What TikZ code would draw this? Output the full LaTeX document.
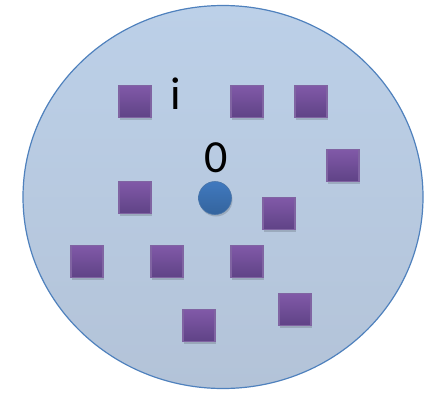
\documentclass[tikz,border=0pt]{standalone}
\usepackage{fontspec}
\setmainfont{Carlito}
\usetikzlibrary{shadows,shapes.geometric}
\definecolor{discfill}{HTML}{B9CDE5}
\definecolor{disctop}{HTML}{BCD0E8}
\definecolor{discbot}{HTML}{B3C3D8}
\definecolor{discline}{HTML}{4F81BD}
\definecolor{sqtop}{HTML}{8159A8}
\definecolor{sqbot}{HTML}{5F4386}
\definecolor{sqline}{HTML}{8064A2}
\definecolor{dottop}{HTML}{4079BE}
\definecolor{dotbot}{HTML}{34649E}
\tikzset{
  sq/.style={rectangle, minimum size=32pt, inner sep=0pt, top color=sqtop, bottom color=sqbot, draw=sqline, line width=1.3pt,
    drop shadow={shadow xshift=1pt, shadow yshift=-2pt, opacity=0.15, fill=black}},
  lbl/.style={font=\fontsize{46}{46}\selectfont, inner sep=0pt, text=black}
}
\begin{document}
\begin{tikzpicture}[x=1pt,y=-1pt]
\useasboundingbox (0,0) rectangle (433,394);
\node[ellipse, minimum width=400pt, minimum height=383pt, inner sep=0pt, top color=disctop, bottom color=discbot, draw=discline, line width=1.2pt] (disc) at (223,197) {};
\node[sq] (s1) at (135,101.5) {};
\node[sq] (s2) at (247,101.5) {};
\node[sq] (s3) at (311,101.5) {};
\node[sq] (s4) at (343,165.5) {};
\node[sq] (s5) at (135,197.5) {};
\node[sq] (s6) at (279,213.5) {};
\node[sq] (s7) at (87,261.5) {};
\node[sq] (s8) at (167,261.5) {};
\node[sq] (s9) at (247,261.5) {};
\node[sq] (s10) at (295,309.5) {};
\node[sq] (s11) at (199,325.5) {};
\node[circle, minimum size=33pt, inner sep=0pt, top color=dottop, bottom color=dotbot, draw=dotbot!90!white, line width=0.6pt,
  drop shadow={shadow xshift=1pt, shadow yshift=-2pt, opacity=0.15, fill=black}] (dot) at (215,198) {};
\node[lbl] (li) at (176,94) {i};
\node[lbl] (l0) at (216,158) {0};
\end{tikzpicture}
\end{document}
